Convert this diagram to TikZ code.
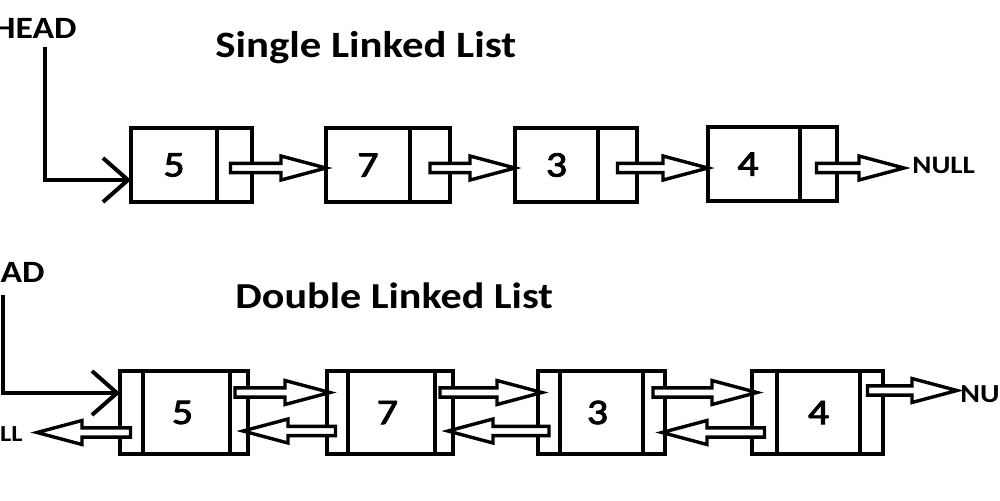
\documentclass[tikz,border=0pt]{standalone}
\usepackage{fontspec}
\setmainfont{Carlito}
\newfontfamily\digfont{Carlito}[FakeBold=2.5]
\usepackage{graphicx}
\usetikzlibrary{arrows.meta,calc}
\newcommand\hollowarr[2]{%
  \path #1 coordinate (haS) #2 coordinate (haT);
  \draw[hollow] let \p1=(haS), \p2=(haT), \n1={(\x2>\x1)*2-1} in
    (\x1,\y1+2.3pt) -- (\x2-\n1*22.5pt,\y1+2.3pt) -- (\x2-\n1*22.5pt,\y1+6pt)
    -- (\x2,\y1) -- (\x2-\n1*22.5pt,\y1-6pt) -- (\x2-\n1*22.5pt,\y1-2.3pt)
    -- (\x1,\y1-2.3pt) -- cycle;}
\newcommand\sx[1]{\scalebox{1.15}[1]{#1}}
\tikzset{
  cell/.style={draw, line width=2.2pt, inner sep=0pt, outer sep=0pt, anchor=west,
    font=\digfont\fontsize{18pt}{20pt}\selectfont},
  srow/.style={cell, minimum height=37pt},
  drow/.style={cell, minimum height=41.5pt},
  hollow/.style={draw, line width=1.7pt, fill=white, line join=miter},
  headline/.style={line width=2pt, -{Straight Barb[length=12.5pt,width=22pt]}},
  title/.style={font=\bfseries\fontsize{18.6pt}{20pt}\selectfont, inner sep=0pt},
  headtxt/.style={font=\bfseries\fontsize{15.5pt}{17pt}\selectfont, inner sep=0pt},
  nulltxt/.style={font=\bfseries\fontsize{12.6pt}{14pt}\selectfont, inner sep=0pt},
}
\begin{document}
\begin{tikzpicture}[x=0.5pt,y=-0.5pt]
\fill[white] (0,0) rectangle (1000,500);
\useasboundingbox (0,0) rectangle (1000,500);

% ---------- Single linked list ----------
\node[title, anchor=base west] (t1) at (215,57) {\sx{Single Linked List}};
\node[headtxt, anchor=base east] (h1) at (77,38) {\sx{HEAD}};

\node[srow, minimum width=43pt] (s1) at (131,165) {\sx{5}};
\node[srow, minimum width=17.5pt] (s1p) at (s1.east) {};
\node[srow, minimum width=42pt] (s2) at (326,165) {\sx{7}};
\node[srow, minimum width=20pt] (s2p) at (s2.east) {};
\node[srow, minimum width=41.5pt] (s3) at (515,165) {\sx{3}};
\node[srow, minimum width=19.5pt] (s3p) at (s3.east) {};
\node[srow, minimum width=46pt] (s4) at (708,164) {\sx{4}\hspace*{6pt}};
\node[srow, minimum width=18.5pt] (s4p) at (s4.east) {};
\node[nulltxt, anchor=base west] (n1) at (912,173) {\sx{NULL}};

\draw[headline] ($(h1.south east)+(-32,9)$) |- ($(s1.west)+(0,15)$);
\hollowarr{($(s1p.center)+(-4,3)$)}{(s2.west)}
\hollowarr{($(s2p.center)+(0,3)$)}{(s3.west)}
\hollowarr{($(s3p.center)+(0,3)$)}{(s4.west)}
\hollowarr{($(s4p.center)+(-2,4)$)}{($(n1.west)+(-8,0)$)}

% ---------- Double linked list ----------
\node[title, anchor=base west, font=\bfseries\fontsize{18.3pt}{20pt}\selectfont] (t2) at (235,308) {\sx{Double Linked List}};
\node[headtxt, anchor=base east] (h2) at (45,282) {\sx{HEAD}};

\node[drow, minimum width=11.5pt] (d1l) at (120,412.5) {};
\node[drow, minimum width=43.5pt] (d1) at (d1l.east) {\sx{5}\hspace*{4pt}};
\node[drow, minimum width=9pt] (d1r) at (d1.east) {};
\node[drow, minimum width=10.5pt] (d2l) at (327,412.5) {};
\node[drow, minimum width=43.5pt] (d2) at (d2l.east) {\sx{7}\hspace*{4pt}};
\node[drow, minimum width=9pt] (d2r) at (d2.east) {};
\node[drow, minimum width=11pt] (d3l) at (538,412.5) {};
\node[drow, minimum width=41.5pt] (d3) at (d3l.east) {\sx{3}\hspace*{4pt}};
\node[drow, minimum width=11pt] (d3r) at (d3.east) {};
\node[drow, minimum width=12.5pt] (d4l) at (752,412.5) {};
\node[drow, minimum width=41.5pt] (d4) at (d4l.east) {\sx{4}};
\node[drow, minimum width=11.5pt] (d4r) at (d4.east) {};
\node[nulltxt, anchor=base west, font=\bfseries\fontsize{13pt}{14pt}\selectfont] (n2) at (960,402) {\sx{NULL}};
\node[nulltxt, anchor=base east, font=\bfseries\fontsize{11.5pt}{13pt}\selectfont] (n3) at (23,441) {\sx{NULL}};

\draw[headline] ($(h2.south east)+(-42,13)$) |- ($(d1l.west)+(0,-19.5)$);
% forward links
\hollowarr{($(d1r.center)+(-4,-20)$)}{($(d2l.west)+(3,0)$)}
\hollowarr{($(d2r.center)+(-4,-20)$)}{($(d3l.west)+(4,0)$)}
\hollowarr{($(d3r.center)+(-1,-20)$)}{($(d4l.west)+(5,0)$)}
\hollowarr{($(d4r.center)+(-4,-22)$)}{($(n2.west)+(-3,0)$)}
% backward links
\hollowarr{($(d1l.center)+(-1,20)$)}{($(n3.east)+(14,0)$)}
\hollowarr{($(d2l.center)+(-2,18.5)$)}{($(d1r.east)+(-5,0)$)}
\hollowarr{($(d3l.center)+(0,18.5)$)}{($(d2r.east)+(-5,0)$)}
\hollowarr{($(d4l.center)+(0,20)$)}{($(d3r.east)+(-3,0)$)}
\end{tikzpicture}
\end{document}
